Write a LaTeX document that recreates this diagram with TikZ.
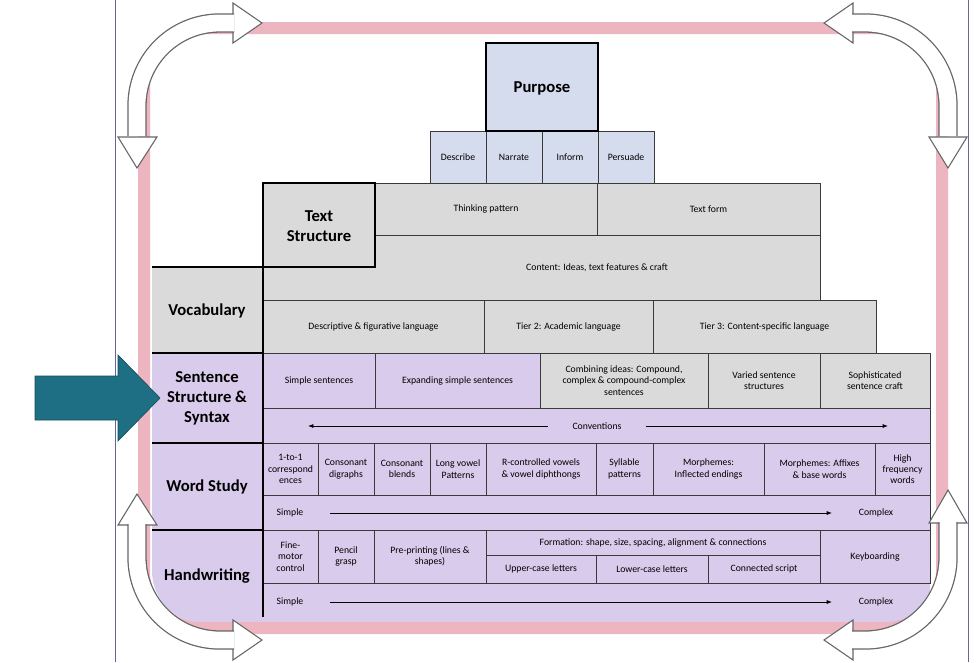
\documentclass[tikz,border=0pt]{standalone}
\usepackage{fontspec}
\setmainfont{Carlito}
\usetikzlibrary{arrows.meta}
\definecolor{grayc}{HTML}{DADADA}
\definecolor{purp}{HTML}{D9CBEC}
\definecolor{bluec}{HTML}{D5DCEE}
\definecolor{pinkc}{HTML}{EDB5C0}
\definecolor{tealc}{HTML}{1E6F84}
\definecolor{edgec}{HTML}{3A3A3A}
\newcommand\bx[6]{\draw[#6] (#1,#2) rectangle (#3,#4) node[midway,align=center,font=\fontsize{7.3}{8.5}\selectfont] (n#1x#2) {#5};}
\newcommand\carr[1]{\draw[line width=14.5pt,black!60] #1; \draw[line width=12.6pt,white] #1;}
\tikzset{g/.style={fill=grayc,draw=edgec,line width=0.5pt},
p/.style={fill=purp,draw=edgec,line width=0.5pt},
b/.style={fill=bluec,draw=edgec,line width=0.5pt},
hd/.style={font=\bfseries\fontsize{12.5}{15}\selectfont,align=center},
ah/.style={fill=white,draw=black!60,line width=0.8pt,line join=miter},
ln/.style={line width=0.6pt,-{Latex[length=4pt,width=3pt]}}}
\begin{document}
\begin{tikzpicture}[x=0.75pt,y=-0.75pt]
\useasboundingbox (0,0) rectangle (980,662);
\fill[white] (0,0) rectangle (980,662);
\draw[blue!30!black!60,line width=0.6pt] (115,0) -- (115,662) (968,0) -- (968,662);
% fills
\fill[purp] (930,353) -- (152,353) [rounded corners=40pt] -- (152,624) [sharp corners] -- (930,624) -- cycle;
% purpose
\draw[b,line width=1.5pt] (486,43) rectangle (598,131);
\node[hd] (purpose) at (542,88) {Purpose};
\bx{430}{131}{486}{183}{Describe}{b}
\bx{486}{131}{542}{183}{Narrate}{b}
\bx{542}{131}{598}{183}{Inform}{b}
\bx{598}{131}{654}{183}{Persuade}{b}
\draw[line width=1.5pt] (486,43) rectangle (598,131);
% text structure
\fill[grayc] (263,235) rectangle (820,300);
\bx{375}{183}{597}{235}{Thinking pattern}{g}
\bx{597}{183}{820}{235}{Text form}{g}
\draw[edgec,line width=0.5pt] (375,235) -- (820,235) -- (820,300);
\node[font=\fontsize{7.3}{8.5}\selectfont] (content) at (597,268) {Content: Ideas, text features \& craft};
\draw[g,line width=1.5pt,draw=black] (263,183) rectangle (375,267);
\node[hd] (ts) at (319,226) {Text\\Structure};
% vocabulary
\fill[grayc] (152,267) rectangle (263,353);
\node[hd] (voc) at (207,311) {Vocabulary};
\bx{263}{300}{484}{353}{Descriptive \& figurative language}{g}
\bx{484}{300}{653}{353}{Tier 2: Academic language}{g}
\bx{653}{300}{876}{353}{Tier 3: Content-specific language}{g}
% sentence
\bx{263}{353}{375}{408}{Simple sentences}{p}
\bx{375}{353}{540}{408}{Expanding simple sentences}{p}
\bx{540}{353}{708}{408}{Combining ideas: Compound,\\complex \& compound-complex\\sentences}{g}
\bx{708}{353}{820}{408}{Varied sentence\\structures}{g}
\bx{820}{353}{930}{408}{Sophisticated\\sentence craft}{g}
\bx{263}{408}{930}{443}{}{p}
\node[font=\fontsize{7.3}{8.5}\selectfont] (conv) at (597,426) {Conventions};
\coordinate (cl) at (308,426); \coordinate (cr) at (888,426);
\draw[ln] (conv.west) ++(-20,0) -- (cl);
\draw[ln] (conv.east) ++(20,0) -- (cr);
\node[hd] (sen) at (207,398) {Sentence\\Structure \&\\Syntax};
% word study
\bx{263}{443}{318}{495}{1-to-1\\correspond\\ences}{p}
\bx{318}{443}{374}{495}{Consonant\\digraphs}{p}
\bx{374}{443}{430}{495}{Consonant\\blends}{p}
\bx{430}{443}{486}{495}{Long vowel\\Patterns}{p}
\bx{486}{443}{596}{495}{R-controlled vowels\\\& vowel diphthongs}{p}
\bx{596}{443}{653}{495}{Syllable\\patterns}{p}
\bx{653}{443}{764}{495}{Morphemes:\\Inflected endings}{p}
\bx{764}{443}{875}{495}{Morphemes: Affixes\\\& base words}{p}
\bx{875}{443}{930}{495}{High\\frequency\\words}{p}
\bx{263}{495}{930}{530}{}{p}
\node[font=\fontsize{7.3}{8.5}\selectfont] (s1) at (290,513) {Simple};
\node[font=\fontsize{7.3}{8.5}\selectfont] (c1) at (876,513) {Complex};
\draw[ln] (s1.east) ++(22,0) -- ++(502,0) coordinate (e1);
\node[hd] (ws) at (207,487) {Word Study};
% handwriting
\bx{263}{530}{318}{583}{Fine-\\motor\\control}{p}
\bx{318}{530}{374}{583}{Pencil\\grasp}{p}
\bx{374}{530}{486}{583}{Pre-printing (lines \&\\shapes)}{p}
\bx{486}{530}{820}{555}{Formation: shape, size, spacing, alignment \& connections}{p}
\bx{486}{555}{596}{583}{Upper-case letters}{p}
\bx{596}{555}{708}{583}{Lower-case letters}{p}
\bx{708}{555}{820}{583}{Connected script}{p}
\bx{820}{530}{930}{583}{Keyboarding}{p}
\draw[edgec,line width=0.5pt] (263,583) -- (930,583);
\node[font=\fontsize{7.3}{8.5}\selectfont] (s2) at (290,602) {Simple};
\node[font=\fontsize{7.3}{8.5}\selectfont] (c2) at (876,602) {Complex};
\draw[ln] (s2.east) ++(22,0) -- ++(502,0) coordinate (e2);
\node[hd] (hw) at (207,576) {Handwriting};
% bold lines
\draw[line width=1.5pt] (152,267) -- (263,267) (263,267) -- (263,617)
 (152,353) -- (263,353) (152,443) -- (263,443) (152,530) -- (263,530);
% pink frame
\draw[pinkc,line width=9pt,rounded corners=42pt] (144,28) rectangle (942,628);
% teal arrow
\draw[fill=tealc,draw=tealc!70!black,line width=0.5pt] (35,376)--(118,376)--(118,355)--(160,398)--(118,441)--(118,420)--(35,420)--cycle;
% curved arrows
\draw[ah] (233,3)--(262,23)--(233,43)--cycle;
\draw[ah] (118,137)--(157,137)--(137,168)--cycle;
\carr{[rounded corners=62pt] (234,23) -- (137,23) -- (137,136)}
\draw[ah] (853,3)--(824,23)--(853,43)--cycle;
\draw[ah] (929,137)--(967,137)--(948,168)--cycle;
\carr{[rounded corners=62pt] (852,23) -- (948,23) -- (948,136)}
\draw[ah] (118,525)--(157,525)--(137,494)--cycle;
\draw[ah] (233,620)--(262,640)--(233,660)--cycle;
\carr{[rounded corners=62pt] (137,524) -- (137,640) -- (234,640)}
\draw[ah] (929,523)--(967,523)--(948,490)--cycle;
\draw[ah] (853,620)--(824,640)--(853,660)--cycle;
\carr{[rounded corners=62pt] (948,522) -- (948,640) -- (852,640)}
\end{tikzpicture}
\end{document}
